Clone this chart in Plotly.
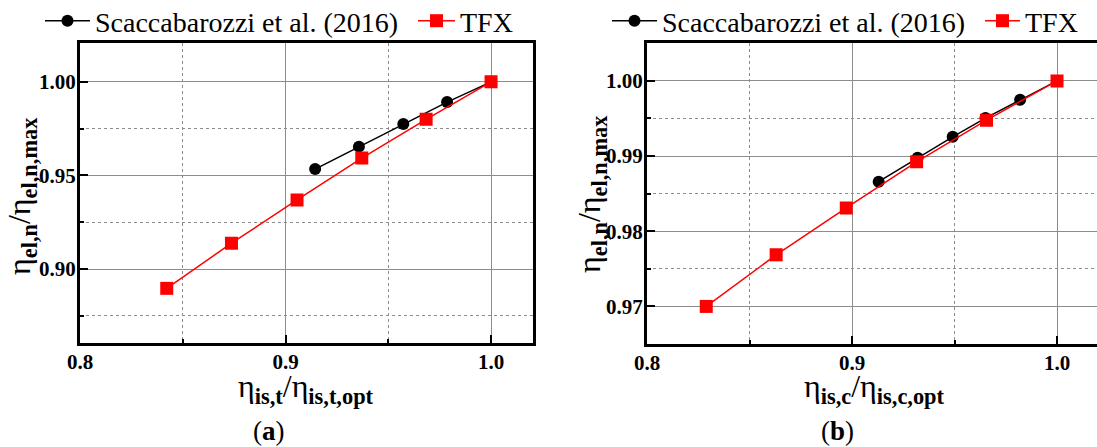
import plotly.graph_objects as go

# Panel (a): turbine efficiency ratio
a_ref_x = [0.9144, 0.9357, 0.9573, 0.9786, 1.0]
a_ref_y = [0.9534, 0.9654, 0.9775, 0.9892, 1.0]
a_tfx_x = [0.8422, 0.8737, 0.9056, 0.9371, 0.9684, 1.0]
a_tfx_y = [0.8897, 0.9138, 0.9369, 0.9593, 0.9800, 1.0]

# Panel (b): compressor efficiency ratio
b_ref_x = [0.9130, 0.9320, 0.9491, 0.9651, 0.9820, 1.0]
b_ref_y = [0.98659, 0.98977, 0.99256, 0.99505, 0.99748, 1.0]
b_tfx_x = [0.8289, 0.8630, 0.8972, 0.9315, 0.9656, 1.0]
b_tfx_y = [0.9700, 0.97686, 0.98310, 0.98924, 0.99478, 1.0]

x_ticks = [0.8, 0.9, 1.0]
x_ticktext = ["0.8", "0.9", "1.0"]
a_y_ticks = [0.90, 0.95, 1.00]
a_y_ticktext = ["0.90", "0.95", "1.00"]
b_y_ticks = [0.97, 0.98, 0.99, 1.00]
b_y_ticktext = ["0.97", "0.98", "0.99", "1.00"]

REF_NAME = "Scaccabarozzi et al. (2016)"
TFX_NAME = "TFX"
SERIF = "Liberation Serif"

W, H = 1097, 447
LEG_FONT = dict(family=SERIF, size=28, color="black")

fig = go.Figure()

def add_pair(xr, yr, xt, yt, xa, ya, leg_ref, leg_tfx):
    fig.add_trace(go.Scatter(
        x=xr, y=yr, name=REF_NAME, mode="lines+markers",
        line=dict(color="black", width=1.5),
        marker=dict(symbol="circle", size=12, color="black"),
        xaxis=xa, yaxis=ya, legend=leg_ref, showlegend=True))
    fig.add_trace(go.Scatter(
        x=xt, y=yt, name=TFX_NAME, mode="lines+markers",
        line=dict(color="#ff0000", width=1.5),
        marker=dict(symbol="square", size=13, color="#ff0000"),
        xaxis=xa, yaxis=ya, legend=leg_tfx, showlegend=True))

add_pair(a_ref_x, a_ref_y, a_tfx_x, a_tfx_y, "x", "y", "legend", "legend3")
add_pair(b_ref_x, b_ref_y, b_tfx_x, b_tfx_y, "x2", "y2", "legend2", "legend4")

tick_font = dict(family=SERIF, size=21, color="black", weight="bold")
grid_major = dict(showgrid=True, gridcolor="#8c8c8c", gridwidth=1.4)

def minor_cfg(vals):
    return dict(tickvals=vals, showgrid=True, griddash="dot",
                gridcolor="#8c8c8c", gridwidth=1.2, ticks="inside",
                ticklen=4, tickwidth=2, tickcolor="black")

def xaxis_cfg(domain, rng, anchor):
    return dict(domain=domain, range=rng, anchor=anchor,
                tickvals=x_ticks, ticktext=x_ticktext, tickfont=tick_font,
                ticks="inside", ticklen=8, tickwidth=2, tickcolor="black",
                ticklabelstandoff=-2,
                showline=True, linecolor="black", linewidth=3, mirror=True,
                zeroline=False, **grid_major, minor=minor_cfg([0.85, 0.95]))

def yaxis_cfg(domain, rng, anchor, ticks, text, minor, mirror):
    return dict(domain=domain, range=rng, anchor=anchor,
                tickvals=ticks, ticktext=text, tickfont=tick_font,
                ticks="inside", ticklen=8, tickwidth=2, tickcolor="black",
                ticklabelstandoff=-3,
                showline=True, linecolor="black", linewidth=3, mirror=mirror,
                zeroline=False, **grid_major, minor=minor_cfg(minor))

def legend_cfg(x_px, item_w):
    return dict(orientation="h", x=x_px / W, y=1 - 21 / H, xanchor="left",
                yanchor="middle", font=LEG_FONT, bgcolor="rgba(0,0,0,0)",
                itemwidth=item_w, visible=True)

fig.update_layout(
    width=W, height=H,
    showlegend=True,
    margin=dict(l=0, r=0, t=0, b=0, autoexpand=False),
    paper_bgcolor="white", plot_bgcolor="white",
    font=dict(family=SERIF, color="black"),
    xaxis=xaxis_cfg([80 / W, 533 / W], [0.8, 1.0204], "y"),
    yaxis=yaxis_cfg([1 - 343 / H, 1 - 43.3 / H], [0.8605, 1.0206], "x",
                    a_y_ticks, a_y_ticktext, [0.875, 0.925, 0.975], True),
    xaxis2=xaxis_cfg([647 / W, 1.0], [0.8, 1.0195], "y2"),
    yaxis2=yaxis_cfg([1 - 344 / H, 1 - 43.3 / H], [0.965, 1.005], "x2",
                     b_y_ticks, b_y_ticktext, [0.975, 0.985, 0.995], False),
    legend=legend_cfg(40, 45),
    legend3=legend_cfg(413, 37),
    legend2=legend_cfg(607, 45),
    legend4=legend_cfg(980, 35),
)

def eta(sub):
    return "η<sub><b>" + sub + "</b></sub>"

ann = [
    dict(text=eta("is,t") + "/" + eta("is,t,opt"), x=306, y=388, angle=0, size=32),
    dict(text=eta("is,c") + "/" + eta("is,c,opt"), x=874, y=388, angle=0, size=32),
    dict(text=eta("el,n") + "/" + eta("el,n,max"), x=22, y=196, angle=-90, size=32),
    dict(text=eta("el,n") + "/" + eta("el,n,max"), x=591, y=194, angle=-90, size=32),
    dict(text="(<b>a</b>)", x=269, y=431, angle=0, size=27),
    dict(text="(<b>b</b>)", x=837, y=431, angle=0, size=27),
]
for a in ann:
    fig.add_annotation(text=a["text"], xref="paper", yref="paper",
                       x=a["x"] / W, y=1 - a["y"] / H, xanchor="center",
                       yanchor="middle", showarrow=False, textangle=a["angle"],
                       font=dict(family=SERIF, size=a["size"], color="black"))

fig.write_html("out.html")
